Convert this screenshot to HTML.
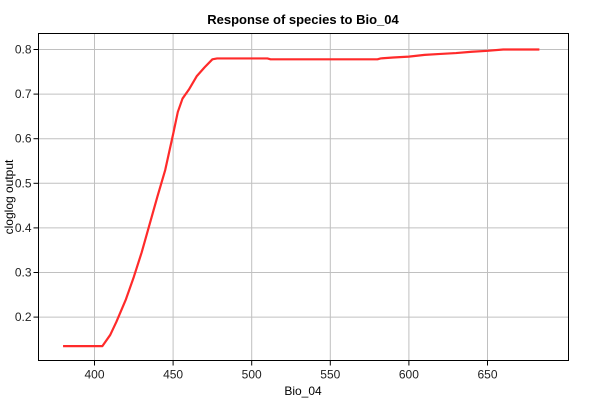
<!DOCTYPE html>
<html><head><meta charset="utf-8"><style>
html,body{margin:0;padding:0;background:#fff;}
svg{display:block;font-family:"Liberation Sans",sans-serif;}
</style></head><body>
<svg id="chart" width="600" height="400"></svg>
<script>
const xVals=[380,405,410,414,420,425,430,432,440,445,450,453,456,460,465,470,475,478,510,512,580,582,590,600,610,620,630,640,650,660,683];
const yVals=[0.135,0.135,0.16,0.19,0.24,0.29,0.345,0.37,0.47,0.53,0.61,0.66,0.69,0.71,0.74,0.76,0.778,0.78,0.78,0.778,0.778,0.78,0.782,0.784,0.788,0.79,0.792,0.795,0.797,0.8,0.8];
const xTicks=[400,450,500,550,600,650];
const yTicks=[0.2,0.3,0.4,0.5,0.6,0.7,0.8];
const L=38.5,R=568.5,T=33.5,B=360.5;
const sx=v=>94.5+(v-400)*78.6/50;
const sy=v=>49.5-(v-0.8)*446;
const NS="http://www.w3.org/2000/svg";
const svg=document.getElementById('chart');
function mk(tag,attrs,parent){const e=document.createElementNS(NS,tag);for(const k in attrs)e.setAttribute(k,attrs[k]);(parent||svg).appendChild(e);return e;}
const grid=mk('g',{});


xTicks.forEach(t=>{
  const x=sx(t);
  mk('line',{x1:x,x2:x,y1:T,y2:B,stroke:'#c0c0c0','stroke-width':1},grid);
  mk('line',{x1:x,x2:x,y1:B,y2:B+5,stroke:'#000'},grid);
  const tx=mk('text',{x:x,y:B+18,'text-anchor':'middle','font-size':12,fill:'#222'});
  tx.textContent=t;
  
  
});
yTicks.forEach(t=>{
  const y=sy(t);
  mk('line',{x1:L,x2:R,y1:y,y2:y,stroke:'#c0c0c0','stroke-width':1},grid);
  mk('line',{x1:L-5,x2:L,y1:y,y2:y,stroke:'#000'},grid);
  const tx=mk('text',{x:L-7,y:y+4,'text-anchor':'end','font-size':12,fill:'#222'});
  tx.textContent=t.toFixed(1);
  
  
});
const frame=mk('rect',{x:L,y:T,width:R-L,height:B-T,fill:'none',stroke:'#000','stroke-width':1});


const line=mk('polyline',{points:xVals.map((x,i)=>sx(x)+','+sy(yVals[i])).join(' '),fill:'none',stroke:'#ff2a2a','stroke-width':2.2,'stroke-linejoin':'round'});


const title=mk('text',{x:303,y:24,'text-anchor':'middle','font-size':13,'font-weight':'bold',fill:'#000'});
title.textContent='Response of species to Bio_04';


const xt=mk('text',{x:303,y:395,'text-anchor':'middle','font-size':12,fill:'#000'});
xt.textContent='Bio_04';


const yt=mk('text',{x:0,y:0,transform:'translate(13,197) rotate(-90)','text-anchor':'middle','font-size':12,fill:'#000'});
yt.textContent='cloglog output';


</script>
</body></html>
